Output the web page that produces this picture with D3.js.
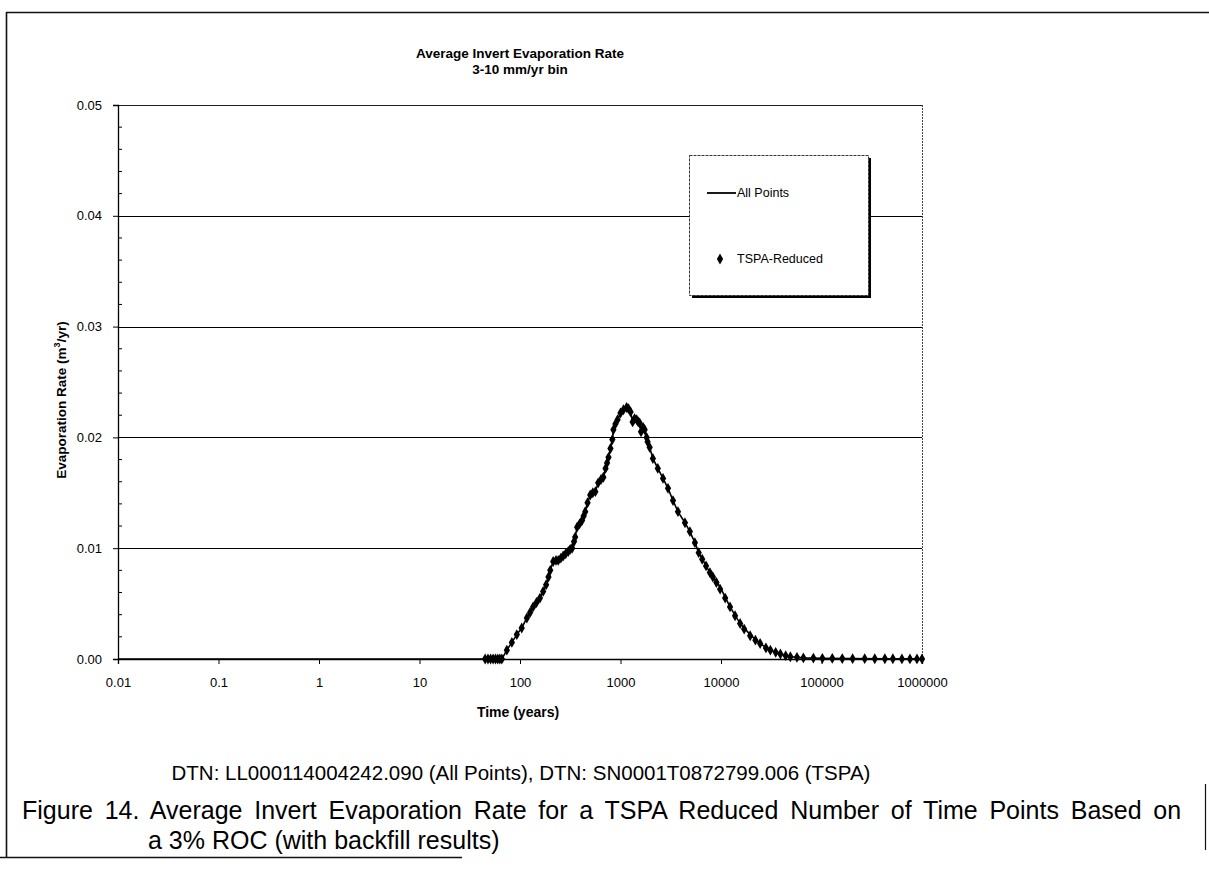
<!DOCTYPE html>
<html>
<head>
<meta charset="utf-8">
<script src="https://cdn.jsdelivr.net/npm/d3@7"></script>
<style>
  html, body { margin: 0; padding: 0; background: #fff; }
  svg { display: block; }
  text { font-family: "Liberation Sans", Arial, sans-serif; fill: #000; }
</style>
</head>
<body>
<svg id="chart" width="1209" height="871"></svg>
<script>
// ---- data -------------------------------------------------------------
const titleLines = ["Average Invert Evaporation Rate", "3-10 mm/yr bin"];
const xTickValues = [0.01, 0.1, 1, 10, 100, 1000, 10000, 100000, 1000000];
const xTickLabels = ["0.01", "0.1", "1", "10", "100", "1000", "10000", "100000", "1000000"];
const yTickValues = [0, 0.01, 0.02, 0.03, 0.04, 0.05];
const yTickLabels = ["0.00", "0.01", "0.02", "0.03", "0.04", "0.05"];
const legendLabels = ["All Points", "TSPA-Reduced"];

// All Points series (time in years, evaporation rate in m^3/yr)
const allPointsYears = [0.01, 0.1, 1, 10, 30, 45, 55, 66, 74, 83, 93, 104, 117, 135, 158, 182, 200, 214,
  240, 269, 302, 330, 354, 370, 414, 446, 470, 500, 562, 600, 675, 710, 760, 795, 830, 850, 935,
  1000, 1070, 1150, 1260, 1320, 1450, 1550, 1600, 1740, 1820, 1860, 1950, 2100, 2350, 2650, 2970,
  3330, 3730, 4380, 4900, 5500, 6000, 7750, 9800, 12300, 15500, 19500, 24500, 31000, 39000, 49000,
  66000, 102000, 204000, 427000, 1000000];
const allPointsRate = [0, 0, 0, 0, 0, 0, 0, 0, 0.0008, 0.0015, 0.0022, 0.0028, 0.0037, 0.0047, 0.0055, 0.0067,
  0.0080, 0.0088, 0.0089, 0.0093, 0.0097, 0.0100, 0.0110, 0.0119, 0.0125, 0.0133, 0.0141, 0.0148,
  0.0151, 0.0159, 0.0164, 0.0172, 0.0182, 0.0190, 0.0198, 0.0207, 0.0216, 0.0222, 0.0225, 0.0227,
  0.0223, 0.0214, 0.0216, 0.0213, 0.0205, 0.0207, 0.0200, 0.0196, 0.0191, 0.0181, 0.0172, 0.0163,
  0.0154, 0.0143, 0.0133, 0.0123, 0.0115, 0.0105, 0.0096, 0.0078, 0.0065, 0.0047, 0.0032, 0.0022,
  0.0014, 0.0008, 0.00045, 0.0002, 0.0001, 0.00006, 0.00003, 0.00002, 0.00001];

// TSPA-Reduced series
const tspaYears = [45, 48, 51, 54, 57, 60, 63, 66, 74, 83, 93, 104, 117, 126, 135, 146, 158, 170, 182, 192,
  200, 214, 228, 240, 255, 269, 285, 302, 316, 330, 345, 354, 370, 392, 414, 430, 446, 470, 500, 530,
  562, 600, 640, 675, 710, 735, 760, 795, 830, 850, 890, 935, 1000, 1070, 1150, 1200, 1260, 1320,
  1380, 1450, 1500, 1550, 1600, 1680, 1740, 1820, 1860, 1950, 2100, 2350, 2650, 2970, 3330, 3730,
  4380, 4900, 5500, 6000, 6500, 7100, 7750, 8300, 9000, 9800, 11000, 12300, 13800, 15500, 17000,
  19500, 22000, 24500, 28000, 31000, 35000, 39000, 44000, 49000, 57000, 66000, 83000, 102000,
  128000, 161000, 204000, 269000, 339000, 427000, 513000, 631000, 759000, 891000, 1000000];
const tspaRate = [0, 0, 0, 0, 0, 0, 0, 0, 0.0008, 0.0015, 0.0022, 0.0028, 0.0037, 0.0042, 0.0047, 0.0051,
  0.0055, 0.0061, 0.0067, 0.0074, 0.0080, 0.0088, 0.0089, 0.0089, 0.0091, 0.0093, 0.0095, 0.0097,
  0.0099, 0.0100, 0.0106, 0.0110, 0.0119, 0.0122, 0.0125, 0.0129, 0.0133, 0.0141, 0.0148, 0.0150,
  0.0151, 0.0159, 0.0162, 0.0164, 0.0172, 0.0177, 0.0182, 0.0190, 0.0198, 0.0207, 0.0212, 0.0216,
  0.0222, 0.0225, 0.0227, 0.0226, 0.0223, 0.0214, 0.0217, 0.0216, 0.0214, 0.0213, 0.0205, 0.0209,
  0.0207, 0.0200, 0.0196, 0.0191, 0.0181, 0.0172, 0.0163, 0.0154, 0.0143, 0.0133, 0.0123, 0.0115,
  0.0105, 0.0096, 0.0090, 0.0084, 0.0078, 0.0074, 0.0069, 0.0063, 0.0055, 0.0047, 0.0039, 0.0032,
  0.0027, 0.0021, 0.0017, 0.0014, 0.0010, 0.0008, 0.0006, 0.00045, 0.0003, 0.0002, 0.00015, 0.0001,
  0.00008, 0.00006, 0.00005, 0.00004, 0.00003, 0.00003, 0.00002, 0.00002, 0.00002, 0.00001,
  0.00001, 0.00001, 0.00001];

const dtnNote = "DTN:  LL000114004242.090 (All Points), DTN:  SN0001T0872799.006 (TSPA)";
const captionLine1 = "Figure 14.  Average Invert Evaporation Rate for a TSPA Reduced Number of Time Points Based on";
const captionLine2 = "a 3% ROC (with backfill results)";

// ---- layout -----------------------------------------------------------
const plot = { left: 118, right: 922, top: 105, bottom: 659 };
const svg = d3.select("#chart");

const x = d3.scaleLog().domain([0.01, 1000000]).range([plot.left, plot.right]);
const y = d3.scaleLinear().domain([0, 0.05]).range([plot.bottom, plot.top]);

// outer page frame (partly faded in the print)
const frame = svg.append("g").attr("stroke", "#111").attr("fill", "none");
frame.append("line").attr("x1", 6).attr("x2", 1209).attr("y1", 12.5).attr("y2", 12.5).attr("stroke-width", 1.6);
frame.append("line").attr("x1", 6.5).attr("x2", 6.5).attr("y1", 12).attr("y2", 858).attr("stroke-width", 1.6);
frame.append("line").attr("x1", 0).attr("x2", 462).attr("y1", 857.5).attr("y2", 857.5).attr("stroke-width", 1.6);
frame.append("line").attr("x1", 1205.5).attr("x2", 1205.5).attr("y1", 784).attr("y2", 850).attr("stroke-width", 1.2);

// title
svg.append("g").selectAll("text").data(titleLines).join("text")
  .attr("x", 520).attr("y", (d, i) => 58 + i * 16)
  .attr("text-anchor", "middle").attr("font-size", 13.5).attr("font-weight", "bold")
  .text(d => d);

// plot area border: top solid, right dotted
svg.append("line").attr("x1", plot.left).attr("x2", plot.right).attr("y1", plot.top + 0.5).attr("y2", plot.top + 0.5)
  .attr("stroke", "#222").attr("stroke-width", 1.2);
svg.append("line").attr("x1", plot.right + 0.5).attr("x2", plot.right + 0.5).attr("y1", plot.top).attr("y2", plot.bottom)
  .attr("stroke", "#444").attr("stroke-width", 1).attr("stroke-dasharray", "2,1");

// horizontal gridlines
svg.append("g").selectAll("line").data(yTickValues.filter(v => v > 0 && v < 0.05)).join("line")
  .attr("x1", plot.left).attr("x2", plot.right)
  .attr("y1", d => Math.round(y(d)) + 0.5).attr("y2", d => Math.round(y(d)) + 0.5)
  .attr("stroke", "#000").attr("stroke-width", 1.2);

// y axis with labels
const yAxis = d3.axisLeft(y).tickValues(yTickValues)
  .tickFormat((d, i) => yTickLabels[i]).tickSize(5).tickPadding(11);
const gy = svg.append("g").attr("transform", `translate(${plot.left},0)`).call(yAxis);
gy.select(".domain").attr("stroke", "#000").attr("stroke-width", 1.3);
gy.selectAll(".tick line").attr("stroke", "#000");
gy.selectAll("text").attr("font-size", 13).attr("font-family", "Liberation Sans, Arial, sans-serif");

// y minor ticks (inside)
const yMinor = d3.range(0, 0.0501, 0.002).filter(v => Math.abs(v / 0.01 - Math.round(v / 0.01)) > 1e-6);
svg.append("g").selectAll("line").data(yMinor).join("line")
  .attr("x1", plot.left).attr("x2", plot.left + 4)
  .attr("y1", d => y(d)).attr("y2", d => y(d))
  .attr("stroke", "#000").attr("stroke-width", 1);

// x axis with labels
const xAxis = d3.axisBottom(x).tickValues(xTickValues)
  .tickFormat((d, i) => xTickLabels[i]).tickSize(5).tickPadding(14);
const gx = svg.append("g").attr("transform", `translate(0,${plot.bottom})`).call(xAxis);
gx.select(".domain").attr("stroke", "#000").attr("stroke-width", 1.3);
gx.selectAll(".tick line").attr("stroke", "#000");
gx.selectAll("text").attr("font-size", 13).attr("font-family", "Liberation Sans, Arial, sans-serif");

// axis titles
svg.append("text").attr("x", 518).attr("y", 717).attr("text-anchor", "middle")
  .attr("font-size", 14).attr("font-weight", "bold").text("Time (years)");
const yTitle = svg.append("text")
  .attr("transform", "translate(66,400) rotate(-90)")
  .attr("text-anchor", "middle").attr("font-size", 13.5).attr("font-weight", "bold");
yTitle.append("tspan").text("Evaporation Rate  (m");
yTitle.append("tspan").attr("font-size", 9).attr("dy", -6).text("3");
yTitle.append("tspan").attr("dy", 6).text("/yr)");

// All Points line
const allPoints = allPointsYears.map((t, i) => [t, allPointsRate[i]]);
svg.append("path").datum(allPoints)
  .attr("fill", "none").attr("stroke", "#000").attr("stroke-width", 1.6)
  .attr("d", d3.line().x(d => x(d[0])).y(d => y(d[1])));

// TSPA-Reduced markers (small diamonds)
const tspa = tspaYears.map((t, i) => [t, tspaRate[i]]);
const diamond = d3.symbol().type(d3.symbolDiamond).size(34);
svg.append("g").selectAll("path").data(tspa).join("path")
  .attr("transform", d => `translate(${x(d[0])},${y(d[1])})`)
  .attr("d", diamond).attr("fill", "#000");

// legend
const lg = svg.append("g").attr("transform", "translate(689,155)");
lg.append("rect").attr("x", 3).attr("y", 3).attr("width", 179).attr("height", 140).attr("fill", "#000");
lg.append("rect").attr("x", 0.5).attr("y", 0.5).attr("width", 179).attr("height", 140)
  .attr("fill", "#fff").attr("stroke", "#333").attr("stroke-width", 1).attr("stroke-dasharray", "3,1");
lg.append("line").attr("x1", 18).attr("x2", 47).attr("y1", 38).attr("y2", 38).attr("stroke", "#000").attr("stroke-width", 1.8);
lg.append("text").attr("x", 48).attr("y", 42).attr("font-size", 12.5).text(legendLabels[0]);
lg.append("path").attr("transform", "translate(31,104)").attr("d", diamond).attr("fill", "#000");
lg.append("text").attr("x", 48).attr("y", 108).attr("font-size", 12.5).text(legendLabels[1]);

// captions
svg.append("text").attr("x", 521).attr("y", 780).attr("text-anchor", "middle")
  .attr("font-size", 20.5).text(dtnNote);
const cap1 = svg.append("text").attr("x", 22).attr("y", 819).attr("font-size", 25).text(captionLine1);
// justify the first caption line to the right margin
const cap1Target = 1186 - 22;
const cap1Len = cap1.node().getComputedTextLength();
const nSpaces = (captionLine1.match(/ /g) || []).length;
if (cap1Len < cap1Target) cap1.attr("word-spacing", (cap1Target - cap1Len) / nSpaces);
svg.append("text").attr("x", 148).attr("y", 849).attr("font-size", 25).text(captionLine2);
</script>
</body>
</html>
